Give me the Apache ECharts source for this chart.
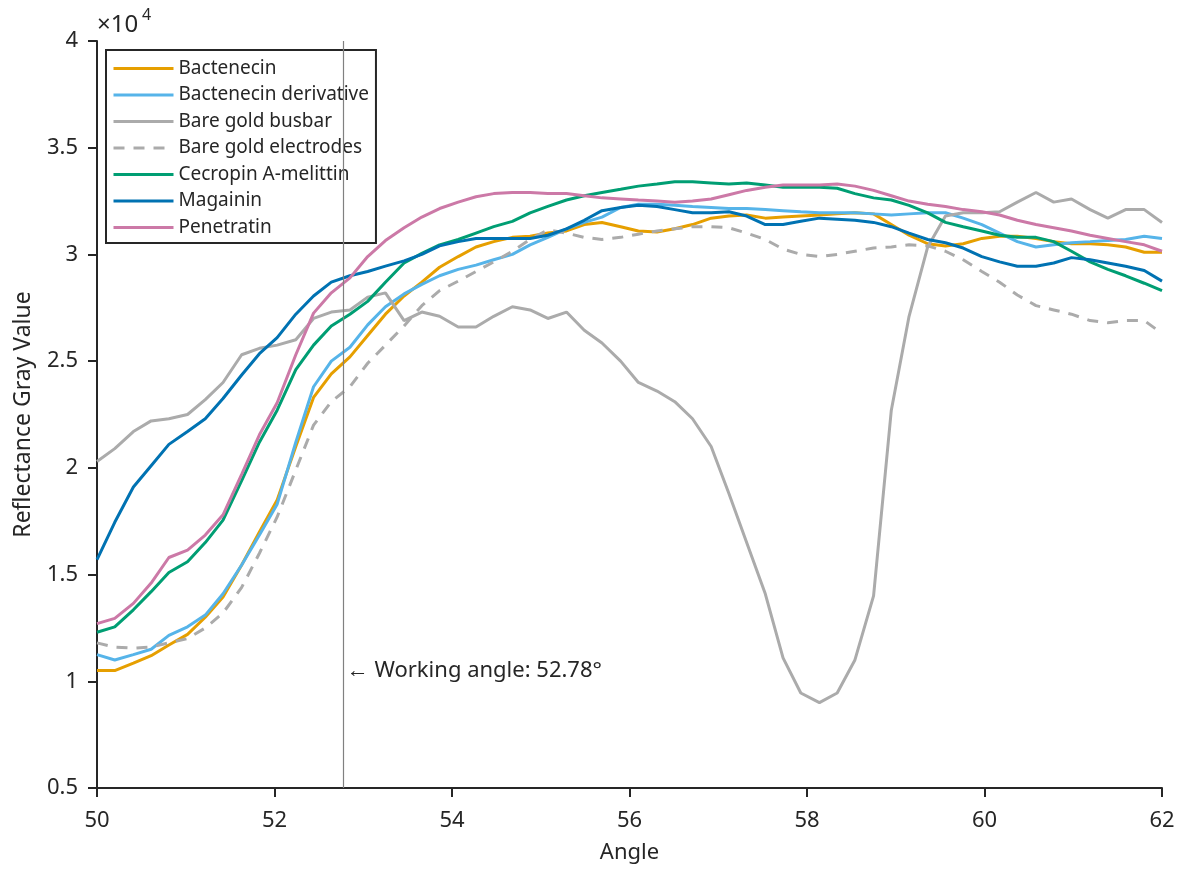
<!DOCTYPE html>
<html>
<head>
<meta charset="utf-8">
<script src="https://cdn.jsdelivr.net/npm/echarts@6/dist/echarts.min.js"></script>
<style>
html, body { margin: 0; background: #fff; }
#main { width: 1185px; height: 870px; }
</style>
</head>
<body>
<div id="main"></div>
<script>
// incidence angle (deg)
var angle = [50.00, 50.20, 50.41, 50.61, 50.81, 51.02, 51.22, 51.42, 51.63, 51.83,
             52.03, 52.24, 52.44, 52.64, 52.85, 53.05, 53.25, 53.46, 53.66, 53.86,
             54.07, 54.27, 54.47, 54.68, 54.88, 55.08, 55.29, 55.49, 55.69, 55.90,
             56.10, 56.31, 56.51, 56.71, 56.92, 57.12, 57.32, 57.53, 57.73, 57.93,
             58.14, 58.34, 58.54, 58.75, 58.95, 59.15, 59.36, 59.56, 59.76, 59.97,
             60.17, 60.37, 60.58, 60.78, 60.98, 61.19, 61.39, 61.59, 61.80, 62.00];

// reflectance gray values
var bactenecin = [10500, 10500, 10850, 11200, 11700, 12200, 13000, 13950, 15450, 17000,
                  18500, 21000, 23300, 24400, 25200, 26200, 27200, 28050, 28700, 29400,
                  29900, 30350, 30600, 30800, 30850, 31000, 31100, 31400, 31500, 31300,
                  31100, 31050, 31200, 31400, 31700, 31800, 31850, 31700, 31750, 31800,
                  31850, 31900, 31950, 31900, 31400, 30900, 30500, 30400, 30500, 30750,
                  30850, 30850, 30750, 30600, 30500, 30500, 30450, 30350, 30100, 30100];
var bactenecinDeriv = [11250, 11000, 11250, 11500, 12150, 12550, 13100, 14100, 15450, 16850,
                       18300, 21200, 23800, 25000, 25650, 26700, 27550, 28150, 28600, 29000,
                       29300, 29500, 29750, 30000, 30450, 30800, 31200, 31500, 31750, 32200,
                       32350, 32350, 32300, 32250, 32200, 32150, 32150, 32100, 32050, 32000,
                       31950, 31950, 31950, 31900, 31850, 31900, 31950, 31950, 31700, 31400,
                       31000, 30600, 30350, 30450, 30550, 30600, 30650, 30700, 30850, 30750];
var busbar = [20300, 20900, 21700, 22200, 22300, 22500, 23200, 24000, 25300, 25600,
              25750, 26000, 27000, 27300, 27400, 28000, 28200, 26900, 27300, 27100,
              26600, 26600, 27100, 27550, 27400, 27000, 27300, 26450, 25850, 25000,
              24000, 23600, 23100, 22300, 21000, 18800, 16500, 14100, 11100, 9450,
              9000, 9450, 11000, 14000, 22700, 27100, 30350, 31800, 31950, 31950,
              32000, 32450, 32900, 32450, 32600, 32100, 31700, 32100, 32100, 31500];
var electrodes = [11800, 11600, 11550, 11600, 11800, 12000, 12500, 13200, 14400, 16000,
                  17700, 19900, 22000, 23100, 23800, 24900, 25750, 26650, 27600, 28300,
                  28750, 29200, 29650, 30150, 30700, 31150, 31000, 30800, 30700, 30800,
                  30950, 31100, 31200, 31300, 31300, 31250, 31000, 30700, 30250, 30000,
                  29900, 30000, 30150, 30300, 30350, 30450, 30400, 30150, 29750, 29200,
                  28700, 28100, 27600, 27400, 27200, 26900, 26800, 26900, 26900, 26300];
var cecropin = [12300, 12550, 13350, 14200, 15100, 15600, 16500, 17550, 19400, 21200,
                22700, 24600, 25750, 26650, 27200, 27800, 28700, 29600, 30050, 30450,
                30700, 31000, 31300, 31550, 31950, 32250, 32550, 32750, 32900, 33050,
                33200, 33300, 33400, 33400, 33350, 33300, 33350, 33250, 33150, 33150,
                33150, 33100, 32850, 32650, 32550, 32300, 31950, 31500, 31300, 31100,
                30900, 30800, 30800, 30600, 30150, 29650, 29300, 29000, 28650, 28300];
var magainin = [15700, 17450, 19100, 20100, 21100, 21700, 22300, 23250, 24350, 25350,
                26100, 27200, 28050, 28700, 29000, 29200, 29450, 29700, 30000, 30400,
                30600, 30750, 30750, 30750, 30750, 30900, 31200, 31600, 32050, 32200,
                32300, 32250, 32100, 31950, 31950, 32000, 31800, 31400, 31400, 31550,
                31700, 31650, 31600, 31500, 31300, 31000, 30700, 30550, 30300, 29900,
                29650, 29450, 29450, 29600, 29850, 29750, 29600, 29450, 29250, 28750];
var penetratin = [12700, 12950, 13650, 14600, 15800, 16150, 16850, 17800, 19700, 21550,
                  23050, 25300, 27250, 28200, 28900, 29900, 30650, 31250, 31750, 32150,
                  32450, 32700, 32850, 32900, 32900, 32850, 32850, 32750, 32650, 32600,
                  32550, 32500, 32450, 32500, 32600, 32800, 33000, 33150, 33250, 33250,
                  33250, 33300, 33200, 33000, 32750, 32500, 32350, 32250, 32100, 32000,
                  31850, 31600, 31400, 31250, 31100, 30900, 30750, 30600, 30450, 30150];

var workingAngle = 52.78;
var seriesNames = ['Bactenecin', 'Bactenecin derivative', 'Bare gold busbar', 'Bare gold electrodes',
                   'Cecropin A-melittin', 'Magainin', 'Penetratin'];
var seriesData = [bactenecin, bactenecinDeriv, busbar, electrodes, cecropin, magainin, penetratin];
var colors = ['#E69F00', '#56B4E9', '#ABABAB', '#ABABAB', '#009E73', '#0072B2', '#CC79A7'];

var FONT = '"Noto Sans", sans-serif';
var TXT = '#262626';

function pairs(ys) {
    return angle.map(function (a, i) { return [a, ys[i]]; });
}

var chart = echarts.init(document.getElementById('main'));

var series = seriesNames.map(function (name, i) {
    var s = {
        name: name,
        type: 'line',
        data: pairs(seriesData[i]),
        symbol: 'none',
        clip: true,
        lineStyle: {color: colors[i], width: 3, type: i === 3 ? [11, 9] : 'solid'},
        itemStyle: {color: colors[i]},
        z: 3
    };
    if (i === 0) {
        // working angle marker
        s.markLine = {
            silent: true,
            symbol: 'none',
            label: {show: false},
            lineStyle: {color: '#808080', width: 1.2, type: 'solid'},
            data: [{xAxis: workingAngle}]
        };
    }
    return s;
});

var option = {
    animation: false,
    textStyle: {fontFamily: FONT},
    grid: {left: 97, right: 23, top: 41, bottom: 82},
    legend: {
        orient: 'vertical',
        left: 106,
        top: 50,
        data: seriesNames,
        itemWidth: 60,
        itemHeight: 19,
        itemGap: 7.5,
        padding: [9, 7, 6, 6],
        borderColor: '#262626',
        borderWidth: 2,
        backgroundColor: '#fff',
        itemStyle: {opacity: 0},
        lineStyle: {width: 3},
        textStyle: {fontSize: 19, color: TXT, fontFamily: FONT}
    },
    xAxis: {
        type: 'value',
        min: 50,
        max: 62,
        interval: 2,
        name: 'Angle',
        nameLocation: 'middle',
        nameGap: 54,
        nameTextStyle: {fontSize: 22, color: TXT},
        axisLine: {lineStyle: {color: TXT, width: 2}},
        axisTick: {inside: false, length: 9, lineStyle: {color: TXT, width: 2}},
        axisLabel: {fontSize: 22, color: TXT, margin: 22},
        splitLine: {show: false}
    },
    yAxis: {
        type: 'value',
        min: 5000,
        max: 40000,
        interval: 5000,
        name: 'Reflectance Gray Value',
        nameLocation: 'middle',
        nameGap: 62,
        nameTextStyle: {fontSize: 23, color: TXT},
        axisLine: {show: true, lineStyle: {color: TXT, width: 2}},
        axisTick: {show: true, inside: false, length: 9, lineStyle: {color: TXT, width: 2}},
        axisLabel: {fontSize: 22, color: TXT, margin: 19, formatter: function (v) { return String(v / 10000); }},
        splitLine: {show: false}
    },
    series: series
};

chart.setOption(option);

var p = chart.convertToPixel({gridIndex: 0}, [workingAngle, 10480]);
chart.setOption({
    graphic: [
        {type: 'text', x: 97, y: 13, style: {text: '\u00d710', fontSize: 24, fontFamily: FONT, fill: TXT, textVerticalAlign: 'top'}},
        {type: 'text', x: 142, y: 7, style: {text: '4', fontSize: 16, fontFamily: FONT, fill: TXT, textVerticalAlign: 'top'}},
        {type: 'text', x: p[0] + 3, y: p[1], style: {text: '\u2190 Working angle: 52.78\u00b0', fontSize: 22, fontFamily: FONT, fill: TXT, textVerticalAlign: 'middle'}}
    ]
});
</script>
</body>
</html>
